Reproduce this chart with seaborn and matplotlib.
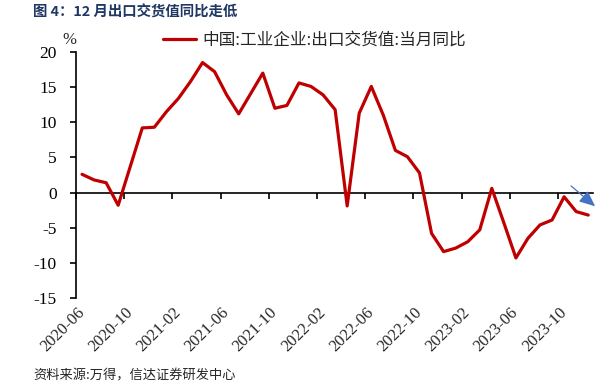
import pandas as pd
import matplotlib
matplotlib.use("Agg")
import matplotlib.pyplot as plt
import seaborn as sns

# ── Data ──────────────────────────────────────────────────────
months = [str(p) for p in pd.period_range("2020-06", "2023-12", freq="M")]
export_yoy = [
    2.6, 1.8, 1.4, -1.8, 3.7, 9.2, 9.3, 11.5, 13.4, 15.8,
    18.5, 17.2, 13.9, 11.2, 14.1, 17.0, 12.0, 12.4, 15.6, 15.1,
    13.9, 11.8, -1.9, 11.3, 15.1, 11.0, 6.0, 5.1, 2.8, -5.8,
    -8.4, -7.9, -7.0, -5.3, 0.6, -4.3, -9.3, -6.5, -4.6, -3.9,
    -0.6, -2.7, -3.2,
]
series_name = "中国:工业企业:出口交货值:当月同比"
y_ticks = [-15, -10, -5, 0, 5, 10, 15, 20]

df = pd.DataFrame({"month": months, "value": export_yoy})

# ── Style ─────────────────────────────────────────────────────
sns.set_theme(style="white")
plt.rcParams["font.family"] = ["Liberation Serif", "Noto Sans CJK SC", "DejaVu Sans"]
plt.rcParams["axes.unicode_minus"] = False
cjk = ["Noto Sans CJK SC", "DejaVu Sans"]

fig = plt.figure(figsize=(6.09, 3.89), dpi=100)
ax = fig.add_axes([0.1248, 0.2339, 0.849, 0.6324])

sns.lineplot(data=df, x="month", y="value", ax=ax, color="#C00000",
             linewidth=2.3, label=series_name, sort=False)

ax.set_xlim(-0.5, 42.4)
ax.set_ylim(-15, 20)
ax.set_yticks(y_ticks)
ax.set_xlabel(""); ax.set_ylabel("")

for s in ["top", "right", "bottom"]:
    ax.spines[s].set_visible(False)
ax.spines["left"].set_color("black")
ax.spines["left"].set_linewidth(1.2)
ax.tick_params(axis="y", which="major", left=True, direction="out", length=4,
               width=1.2, pad=10, labelsize=12.5, colors="black")

ax.set_xticks(range(0, len(months), 4))
ax.set_xticklabels(months[::4], rotation=45, ha="right", va="center",
                   rotation_mode="anchor", fontsize=12)
ax.tick_params(axis="x", which="major", bottom=True, length=0, pad=9)

# zero line with boundary tick marks
zero = ax.secondary_xaxis(15 / 35)
zero.set_xticks([i + 3.5 for i in range(-4, len(months), 4)])
zero.set_xticklabels([])
zero.tick_params(axis="x", direction="out", length=4, width=1.2, colors="black")
zero.spines["bottom"].set_linewidth(1.2)
zero.spines["bottom"].set_color("black")

# legend
ax.legend(loc="center left", bbox_to_anchor=(0.168, 1.048), frameon=False,
          handlelength=2.0, handletextpad=0.4, borderaxespad=0, borderpad=0,
          prop={"family": cjk, "size": 12})

# trend arrow
ax.annotate("", xy=(42.75, -2.2), xytext=(40.4, 1.2), annotation_clip=False,
            arrowprops=dict(arrowstyle="-|>,head_length=0.8,head_width=0.35",
                            color="#4472C4", lw=0.9))

# texts
fig.text(0.054, 1 - 12.5 / 389, "图 4：12 月出口交货值同比走低", family=cjk,
         fontsize=10.4, fontweight="bold", color="#1F3864", va="center", ha="left")
fig.text(69 / 609, 1 - 40 / 389, "%", fontsize=12, ha="center", va="center")
fig.text(33 / 609, 1 - 376 / 389, "资料来源:万得，信达证券研发中心", family=cjk,
         fontsize=9.5, style="italic", va="center", ha="left")

fig.savefig("out.png", dpi=100)
